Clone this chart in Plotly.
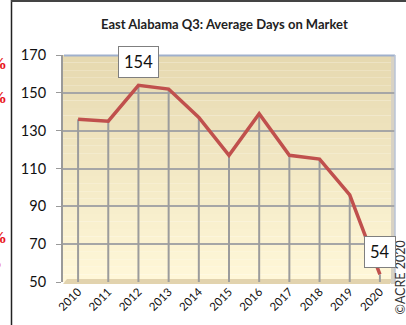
import plotly.graph_objects as go

years = [2010, 2011, 2012, 2013, 2014, 2015, 2016, 2017, 2018, 2019, 2020]
days = [136, 135, 154, 152, 137, 117, 139, 117, 115, 96, 54]
y_ticks = [50, 70, 90, 110, 130, 150, 170]
title_text = "East Alabama Q3: Average Days on Market"
labelled = {2012: 154, 2020: 54}

W, H = 406, 325
L, R, T, B = 63, 11, 55, 43
PW, PH = W - L - R, H - T - B


def px(x):
    return (x - L) / PW


def py(y):
    return (H - B - y) / PH


fig = go.Figure()

# drop lines from each point to the floor
dx, dy = [], []
for yr, v in zip(years, days):
    dx += [yr, yr, None]
    dy += [v, y_ticks[0], None]
fig.add_trace(go.Scatter(x=dx, y=dy, mode="lines",
                         line=dict(color="#9C9C9C", width=2),
                         hoverinfo="skip", showlegend=False))

fig.add_trace(go.Scatter(x=years, y=days, mode="lines",
                         line=dict(color="#C0504D", width=3.5),
                         showlegend=False))

shapes = []
# gradient background
top = (230, 217, 176)
bot = (255, 247, 216)
n = 30
for i in range(n):
    t = i / (n - 1)
    c = tuple(round(top[k] + (bot[k] - top[k]) * t) for k in range(3))
    shapes.append(dict(type="rect", xref="paper", yref="paper",
                       x0=0, x1=1, y0=1 - (i + 1) / n, y1=1 - i / n,
                       fillcolor="rgb(%d,%d,%d)" % c, line=dict(width=0),
                       layer="below"))
# floor strip
shapes.append(dict(type="path", xref="paper", yref="paper",
                   path="M %f,%f L %f,%f L %f,%f L %f,%f Z" % (
                       px(63), py(284), px(390), py(284), px(394), py(279), px(67), py(279)),
                   fillcolor="#E2D3AE", line=dict(width=0), layer="below"))
# right wall bevel
shapes.append(dict(type="rect", xref="paper", yref="paper",
                   x0=px(391), x1=px(395), y0=py(284), y1=py(56),
                   fillcolor="#D8D2C4", line=dict(width=0), layer="below"))
# top and right borders (blue-ish)
shapes.append(dict(type="line", xref="paper", yref="paper",
                   x0=px(64), x1=px(395), y0=py(55.5), y1=py(55.5),
                   line=dict(color="#9FB0CC", width=2)))
shapes.append(dict(type="line", xref="paper", yref="paper",
                   x0=px(395), x1=px(395), y0=py(55), y1=py(283),
                   line=dict(color="#B8C3D6", width=1.5)))
# outer frame
shapes.append(dict(type="line", xref="paper", yref="paper",
                   x0=px(11.5), x1=px(11.5), y0=py(0), y1=py(325),
                   line=dict(color="#222222", width=1.5)))
shapes.append(dict(type="line", xref="paper", yref="paper",
                   x0=px(11), x1=px(406), y0=py(1), y1=py(1),
                   line=dict(color="#444444", width=2)))

FONT = "Lato, Open Sans, sans-serif"
annotations = [
    dict(text="<b>" + title_text + "</b>", xref="paper", yref="paper",
         x=px(224), y=py(24), xanchor="center", yanchor="middle", showarrow=False,
         font=dict(family=FONT, size=13, color="#222222")),
    dict(text="©ACRE 2020", xref="paper", yref="paper", x=px(399.5), y=py(278),
         xanchor="center", yanchor="middle",
         textangle=-90, showarrow=False,
         font=dict(family=FONT, size=12.5, color="#333333")),
]
for yr, v in labelled.items():
    annotations.append(dict(text=str(v), x=yr, y=v, xref="x", yref="y",
                            xanchor="center", yanchor="middle",
                            yshift=23 if v > 100 else 22, showarrow=False,
                            bgcolor="white", bordercolor="#7F7F7F", borderwidth=1,
                            borderpad=5,
                            font=dict(family=FONT, size=16.5, color="#111111")))
for yc, xr in [(63, 9), (97, 9), (237, 9), (262, 4)]:
    annotations.append(dict(text="<b>%</b>", xref="paper", yref="paper",
                            x=px(xr), y=py(yc), xanchor="right", yanchor="middle",
                            showarrow=False,
                            font=dict(family="Liberation Serif", size=17, color="#E8141B")))

fig.update_layout(
    width=W, height=H,
    margin=dict(l=L, r=R, t=T, b=B),
    paper_bgcolor="white",
    plot_bgcolor="rgba(0,0,0,0)",
    shapes=shapes,
    annotations=annotations,
    xaxis=dict(range=[years[0] - 0.5, years[-1] + 0.5], tickvals=years,
               ticktext=[str(y) for y in years], tickangle=-45,
               showgrid=False, zeroline=False, showline=False, ticks="",
               tickfont=dict(family=FONT, size=11.5, color="#111111")),
    yaxis=dict(range=[y_ticks[0], y_ticks[-1]], tickvals=y_ticks,
               showgrid=True, gridcolor="#A6A6A6", gridwidth=1.5,
               zeroline=False, showline=True, linecolor="#9A9A9A", linewidth=2,
               ticks="outside", ticklen=5, tickcolor="#9A9A9A",
               ticklabelstandoff=7,
               tickfont=dict(family=FONT, size=14.5, color="#111111")),
)

fig.write_html("out.html")
